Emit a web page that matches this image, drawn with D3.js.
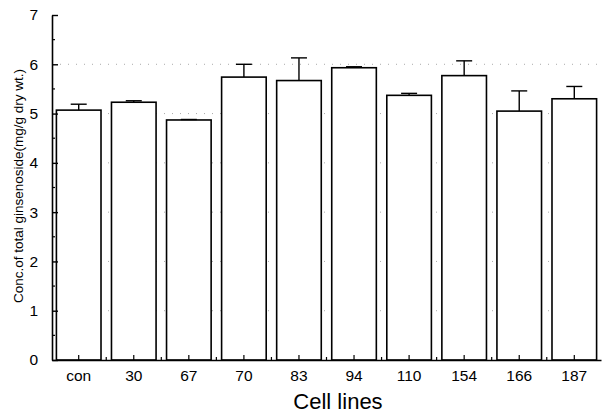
<!DOCTYPE html>
<html lang="en">
<head>
	<meta charset="UTF-8">
	<title>Cell lines</title>
	<script src="https://d3js.org/d3.v7.min.js"></script>
	<style>
		body { margin: 0; background: #fff; }
		text { font-family: "Liberation Sans", Arial, sans-serif; }
	</style>
</head>
<body>
	<div id="main"></div>
<script>
	// values
	var cellLines = ["con", "30", "67", "70", "83", "94", "110", "154", "166", "187"];
	var means = [5.07, 5.23, 4.87, 5.74, 5.67, 5.93, 5.37, 5.77, 5.05, 5.30];
	var errors = [0.12, 0.03, 0.01, 0.26, 0.46, 0.02, 0.04, 0.30, 0.41, 0.25];
	var yTicks = [0, 1, 2, 3, 4, 5, 6, 7];

	var width = 604, height = 416;
	var plotLeft = 52, plotRight = 601, plotTop = 15, plotBottom = 360;

	var svg = d3.select("#main")
		.append("svg")
		.attr("width", width)
		.attr("height", height);

	var x = d3.scaleBand()
		.domain(cellLines)
		.range([plotLeft, plotRight])
		.paddingInner(0.19)
		.paddingOuter(0.08);

	var y = d3.scaleLinear()
		.domain([0, 7])
		.range([plotBottom, plotTop]);

	// dotted grid
	svg.append("g")
		.selectAll("line")
		.data(yTicks.filter(function(d){ return d > 0 && d < 7; }))
		.enter()
		.append("line")
		.attr("x1", plotLeft)
		.attr("x2", plotRight)
		.attr("y1", function(d){ return y(d); })
		.attr("y2", function(d){ return y(d); })
		.attr("stroke", "#aaa")
		.attr("stroke-width", 1)
		.attr("stroke-dasharray", "1,7");

	// bars
	var data = cellLines.map(function(c, i){ return {name: c, v: means[i], e: errors[i]}; });

	svg.append("g")
		.selectAll("rect")
		.data(data)
		.enter()
		.append("rect")
		.attr("x", function(d){ return x(d.name); })
		.attr("width", x.bandwidth())
		.attr("y", function(d){ return y(d.v); })
		.attr("height", function(d){ return y(0) - y(d.v); })
		.attr("fill", "#fff")
		.attr("stroke", "#000")
		.attr("stroke-width", 1.6);

	// error bars
	var eb = svg.append("g")
		.attr("stroke", "#000")
		.attr("stroke-width", 1.4);
	eb.selectAll(".stem")
		.data(data)
		.enter()
		.append("line")
		.attr("class", "stem")
		.attr("x1", function(d){ return x(d.name) + x.bandwidth() / 2; })
		.attr("x2", function(d){ return x(d.name) + x.bandwidth() / 2; })
		.attr("y1", function(d){ return y(d.v); })
		.attr("y2", function(d){ return y(d.v + d.e); });
	eb.selectAll(".cap")
		.data(data)
		.enter()
		.append("line")
		.attr("class", "cap")
		.attr("x1", function(d){ return x(d.name) + x.bandwidth() / 2 - 8; })
		.attr("x2", function(d){ return x(d.name) + x.bandwidth() / 2 + 8; })
		.attr("y1", function(d){ return y(d.v + d.e); })
		.attr("y2", function(d){ return y(d.v + d.e); });

	// y axis, ticks pointing inward
	var yAxis = svg.append("g")
		.attr("transform", "translate(" + plotLeft + ",0)")
		.call(d3.axisLeft(y).tickValues(yTicks).tickFormat(d3.format("d"))
			.tickSize(-6).tickSizeOuter(0).tickPadding(14));
	yAxis.select(".domain").attr("stroke-width", 1.6);
	yAxis.selectAll(".tick line").attr("stroke-width", 1.4);
	yAxis.selectAll("text").attr("font-size", 15.5).attr("fill", "#000");

	// minor y ticks
	svg.append("g")
		.selectAll("line")
		.data(d3.range(0.5, 7, 1))
		.enter()
		.append("line")
		.attr("x1", plotLeft)
		.attr("x2", plotLeft + 3)
		.attr("y1", function(d){ return y(d); })
		.attr("y2", function(d){ return y(d); })
		.attr("stroke", "#000")
		.attr("stroke-width", 1.2);

	// x axis, ticks pointing inward
	var xAxis = svg.append("g")
		.attr("transform", "translate(0," + plotBottom + ")")
		.call(d3.axisBottom(x).tickSize(-5).tickPadding(10).tickSizeOuter(0));
	xAxis.select(".domain").attr("stroke-width", 1.6);
	xAxis.selectAll(".tick line").attr("stroke-width", 1.2);
	xAxis.selectAll("text").attr("font-size", 15.5).attr("fill", "#000");

	// minor x ticks between bars
	svg.append("g")
		.selectAll("line")
		.data(cellLines.slice(1))
		.enter()
		.append("line")
		.attr("x1", function(d){ return x(d) - x.step() * x.paddingInner() / 2; })
		.attr("x2", function(d){ return x(d) - x.step() * x.paddingInner() / 2; })
		.attr("y1", plotBottom)
		.attr("y2", plotBottom - 3)
		.attr("stroke", "#000")
		.attr("stroke-width", 1.2);

	// axis titles
	svg.append("text")
		.attr("x", 338)
		.attr("y", 409)
		.attr("text-anchor", "middle")
		.attr("font-size", 22)
		.text("Cell lines");

	svg.append("text")
		.attr("transform", "translate(23,186) rotate(-90)")
		.attr("text-anchor", "middle")
		.attr("font-size", 13.5)
		.text("Conc.of total ginsenoside(mg/g dry wt.)");
</script>
</body>
</html>
